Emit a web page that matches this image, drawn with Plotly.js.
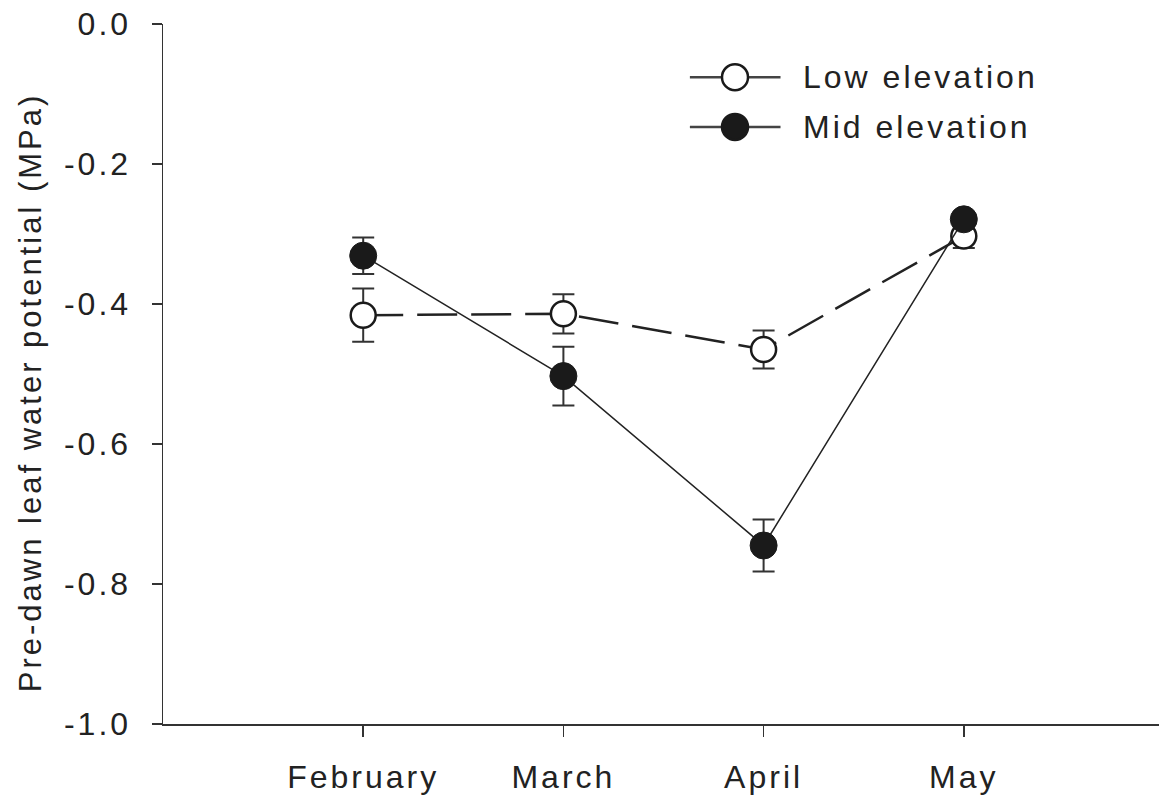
<!DOCTYPE html>
<html>
<head>
<meta charset="utf-8">
<script src="https://cdn.plot.ly/plotly-3.0.1.min.js"></script>
<style>
html,body{margin:0;padding:0;background:#fff;}
#chart{width:1159px;height:801px;}
svg text{letter-spacing:3px;}
</style>
</head>
<body>
<div id="chart"></div>
<script>
const months = ["February", "March", "April", "May"];
const lowElev = [-0.416, -0.414, -0.465, -0.303];
const lowErr = [0.038, 0.028, 0.027, 0.017];
const midElev = [-0.331, -0.503, -0.745, -0.279];
const midErr = [0.026, 0.042, 0.037, 0.01];
const seriesNames = ["Low elevation", "Mid elevation"];
const yTickVals = [0, -0.2, -0.4, -0.6, -0.8, -1.0];
const yTickText = ["0.0", "-0.2", "-0.4", "-0.6", "-0.8", "-1.0"];
const yTitle = "Pre-dawn leaf water potential (MPa)";

const font = {family: "Liberation Sans, Arial, sans-serif", size: 32, color: "#222"};
const titleFont = {family: "Liberation Sans, Arial, sans-serif", size: 31, color: "#222"};

const traces = [
  {
    x: months, y: lowElev, type: "scatter", mode: "lines+markers", name: seriesNames[0],
    line: {color: "#222", width: 2.5, dash: "40px,14px"},
    marker: {symbol: "circle", size: 25, color: "#fff", line: {color: "#1a1a1a", width: 2.5}},
    error_y: {type: "data", array: lowErr, visible: true, color: "#333", thickness: 2, width: 11}
  },
  {
    x: months, y: midElev, type: "scatter", mode: "lines+markers", name: seriesNames[1],
    line: {color: "#222", width: 1.5},
    marker: {symbol: "circle", size: 27, color: "#1a1a1a", line: {color: "#1a1a1a", width: 1}},
    error_y: {type: "data", array: midErr, visible: true, color: "#333", thickness: 2, width: 11}
  }
];

// custom legend (paper coordinates)
const legY = [0.924, 0.853];
const legFill = ["#fff", "#1a1a1a"];
const shapes = [];
const annotations = [];
for (let i = 0; i < 2; i++) {
  shapes.push({type: "line", xref: "paper", yref: "paper", x0: 0.529, x1: 0.620, y0: legY[i], y1: legY[i],
    line: {color: "#444", width: 2.5}});
  shapes.push({type: "circle", xref: "paper", yref: "paper", xsizemode: "pixel", ysizemode: "pixel",
    xanchor: 0.5743, yanchor: legY[i], x0: -13, x1: 13, y0: -13, y1: 13,
    fillcolor: legFill[i], line: {color: "#1a1a1a", width: 2.5}, layer: "above"});
  annotations.push({xref: "paper", yref: "paper", x: 0.6406, y: legY[i], xanchor: "left", yanchor: "middle",
    text: seriesNames[i], showarrow: false, font: font});
}
annotations.push({xref: "paper", yref: "paper", x: -0.1335, y: 0.474, xanchor: "center", yanchor: "middle",
  text: yTitle, textangle: -90, showarrow: false, font: titleFont});

const layout = {
  width: 1159, height: 801,
  margin: {l: 163, r: 0, t: 24, b: 77},
  paper_bgcolor: "#fff", plot_bgcolor: "#fff",
  font: font,
  showlegend: false,
  shapes: shapes,
  annotations: annotations,
  xaxis: {
    type: "category", range: [-1, 3.975],
    showline: true, linecolor: "#333", linewidth: 1.5,
    ticks: "outside", ticklen: 11, tickwidth: 1.5, tickcolor: "#333",
    showgrid: false, zeroline: false, fixedrange: true,
    tickfont: font, ticklabelstandoff: 13
  },
  yaxis: {
    range: [-1, 0],
    tickvals: yTickVals, ticktext: yTickText,
    showline: true, linecolor: "#333", linewidth: 1.5,
    ticks: "outside", ticklen: 10, tickwidth: 1.5, tickcolor: "#333",
    showgrid: false, zeroline: false, fixedrange: true,
    tickfont: font, ticklabelstandoff: 14
  }
};

Plotly.newPlot("chart", traces, layout, {displayModeBar: false, staticPlot: true});
</script>
</body>
</html>
